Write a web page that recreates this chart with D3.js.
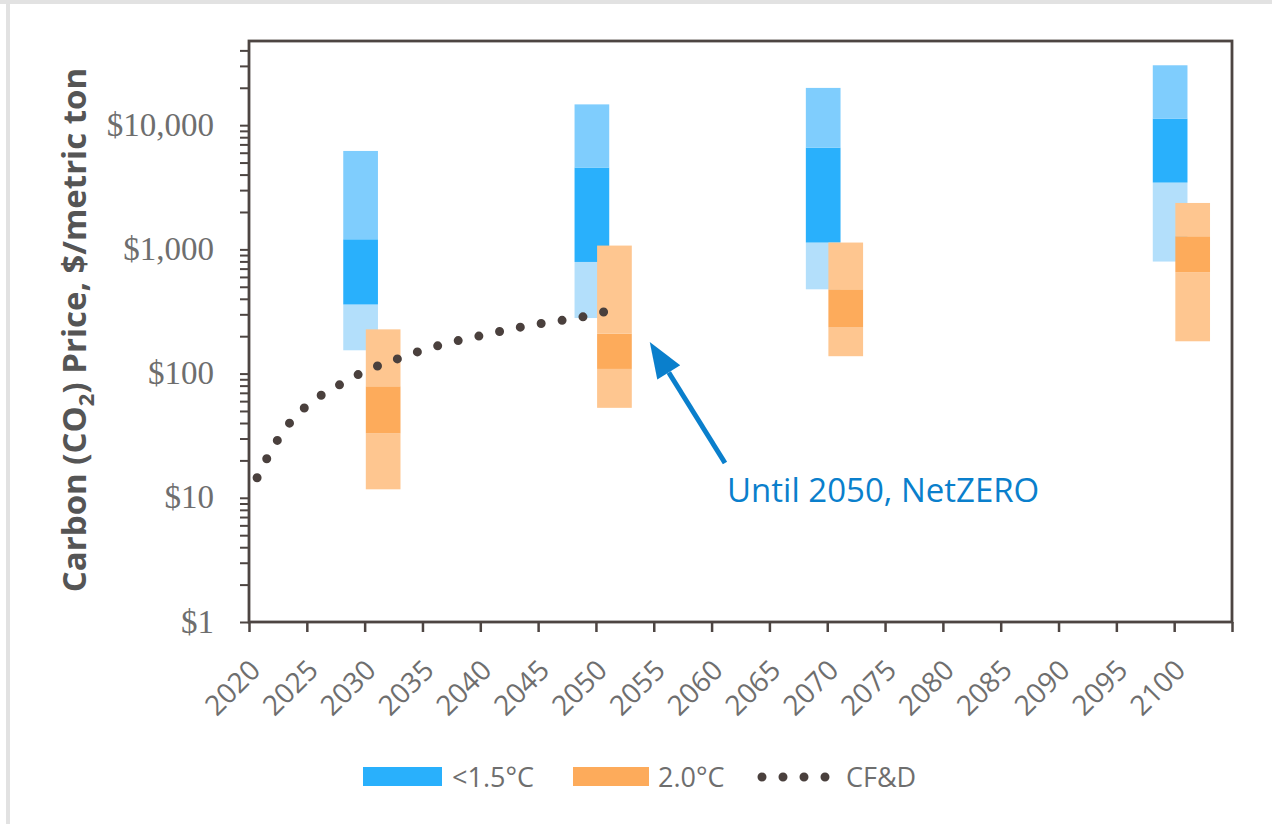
<!DOCTYPE html>
<html>
<head>
<meta charset="utf-8">
<script src="https://cdn.jsdelivr.net/npm/d3@7/dist/d3.min.js"></script>
<style>
  html, body { margin: 0; padding: 0; background: #fff; }
  svg { display: block; }
</style>
</head>
<body>
<svg id="chart" width="1272" height="824"></svg>
<script>
// ---- data ----
const yearTicks = [2020, 2025, 2030, 2035, 2040, 2045, 2050, 2055, 2060, 2065, 2070, 2075, 2080, 2085, 2090, 2095, 2100];
const priceTicks = [1, 10, 100, 1000, 10000];

// Scenario years with price ranges: [outer low, inner low, inner high, outer high]
const scenarioYears = [2030, 2050, 2070, 2100];
const below15Ranges = [
  [154, 360, 1206, 6200],
  [280, 792, 4560, 14700],
  [477, 1135, 6600, 19950],
  [798, 3450, 11300, 30350]
];
const deg20Ranges = [
  [11.7, 33, 79, 227],
  [53, 109, 210, 1073],
  [138, 235, 477, 1135],
  [182, 654, 1275, 2364]
];

// CF&D carbon price path
const cfdYears  = [2020, 2021, 2022, 2023, 2024, 2025, 2026, 2027, 2028, 2029, 2030, 2032, 2034, 2036, 2038, 2040, 2042, 2044, 2046, 2048, 2050];
const cfdValues = [14.5, 22, 31.5, 42, 52, 62, 71, 80, 90, 101, 111, 130, 151, 171, 190, 208, 229, 248, 265, 284, 314];

const seriesNames = ["<1.5°C", "2.0°C", "CF&D"];

// ---- layout ----
const svg = d3.select("#chart");
const plot = { left: 249, right: 1232, top: 41, bottom: 622 };

const x = d3.scaleLinear().domain([2020, 2105]).range([plot.left, plot.right]);
const y = d3.scaleLog().domain([1, 47600]).range([plot.bottom, plot.top]);

const colors = {
  blueOuterHigh: "#7fcdfd",
  blueInner: "#29b0fc",
  blueOuterLow: "#b3dffb",
  orangeOuter: "#fec690",
  orangeInner: "#fdab5b",
  dot: "#4a403d",
  axis: "#4d4542",
  tickText: "#6e6e6e",
  note: "#0a7fcc"
};

// page frame
svg.append("rect").attr("x", 0).attr("y", 0).attr("width", 1272).attr("height", 4).attr("fill", "#e2e2e2");
svg.append("rect").attr("x", 6).attr("y", 0).attr("width", 4).attr("height", 824).attr("fill", "#e2e2e2");

// ---- range bars ----
const barG = svg.append("g");
function drawRange(ranges, x0Off, x1Off, fills) {
  scenarioYears.forEach((yr, i) => {
    const r = ranges[i];
    const segs = [[r[0], r[1], fills[0]], [r[1], r[2], fills[1]], [r[2], r[3], fills[2]]];
    segs.forEach(s => {
      barG.append("rect")
        .attr("x", x(yr + x0Off))
        .attr("width", x(yr + x1Off) - x(yr + x0Off))
        .attr("y", y(s[1]))
        .attr("height", y(s[0]) - y(s[1]))
        .attr("fill", s[2]);
    });
  });
}
drawRange(below15Ranges, -1.85, 1.15, [colors.blueOuterLow, colors.blueInner, colors.blueOuterHigh]);
drawRange(deg20Ranges, 0.1, 3.1, [colors.orangeOuter, colors.orangeInner, colors.orangeOuter]);

// ---- CF&D dotted curve ----
const cfdLine = d3.line()
  .x(d => x(d[0] + 0.7))
  .y(d => y(d[1]))
  .curve(d3.curveMonotoneX);
const cfdPath = svg.append("path")
  .datum(cfdYears.map((yr, i) => [yr, cfdValues[i]]))
  .attr("d", cfdLine)
  .attr("fill", "none")
  .attr("stroke", colors.dot)
  .attr("stroke-width", 9)
  .attr("stroke-linecap", "round");
// spread the dots evenly so one sits on each end of the path
const len = cfdPath.node().getTotalLength();
const nGaps = Math.round(len / 21.4);
const gap = (len - 0.5) / nGaps;
cfdPath.attr("stroke-dasharray", `0 ${gap}`);

// ---- axes ----
const axisG = svg.append("g");

// y axis with log minor ticks
const yAxis = d3.axisLeft(y)
  .tickValues(y.ticks())
  .tickSize(9)
  .tickFormat(() => "");
const yg = axisG.append("g").attr("transform", `translate(${plot.left},0)`).call(yAxis);
yg.select(".domain").remove();
yg.selectAll(".tick line").attr("stroke", colors.axis).attr("stroke-width", 2);

// y labels at decades
axisG.append("g").selectAll("text")
  .data(priceTicks)
  .join("text")
  .attr("x", plot.left - 35)
  .attr("y", d => y(d))
  .attr("dy", "0.32em")
  .attr("text-anchor", "end")
  .attr("font-family", "'Liberation Serif', serif")
  .attr("font-size", 33)
  .attr("fill", colors.tickText)
  .text(d => d3.format("$,")(d));

// x axis
const xAxis = d3.axisBottom(x)
  .tickValues(yearTicks.concat([2105]))
  .tickSize(10)
  .tickFormat(() => "");
const xg = axisG.append("g").attr("transform", `translate(0,${plot.bottom})`).call(xAxis);
xg.select(".domain").remove();
xg.selectAll(".tick line").attr("stroke", colors.axis).attr("stroke-width", 2.5);

axisG.append("g").selectAll("text")
  .data(yearTicks)
  .join("text")
  .attr("transform", d => `translate(${x(d) + 13},${plot.bottom + 50}) rotate(-45)`)
  .attr("text-anchor", "end")
  .attr("font-family", "'Open Sans', sans-serif")
  .attr("font-size", 28)
  .attr("fill", colors.tickText)
  .text(d => d);

// plot frame
axisG.append("rect")
  .attr("x", plot.left).attr("y", plot.top)
  .attr("width", plot.right - plot.left)
  .attr("height", plot.bottom - plot.top)
  .attr("fill", "none")
  .attr("stroke", colors.axis)
  .attr("stroke-width", 2.8);

// y axis title
const title = svg.append("text")
  .attr("transform", `translate(86,330) rotate(-90)`)
  .attr("text-anchor", "middle")
  .attr("font-family", "'Open Sans', sans-serif")
  .attr("font-weight", "bold")
  .attr("font-size", 33)
  .attr("fill", "#555");
title.append("tspan").text("Carbon (CO");
title.append("tspan").attr("font-size", 22).attr("dy", 8).text("2");
title.append("tspan").attr("dy", -8).text(") Price, $/metric ton");

// ---- annotation ----
const note = svg.append("g");
const tip = [x(2055) - 4, y(180)];
const tail = [725, 463];
const ang = Math.atan2(tail[1] - tip[1], tail[0] - tip[0]);
const headLen = 36, headHalf = 13.5;
const baseMid = [tip[0] + headLen * Math.cos(ang), tip[1] + headLen * Math.sin(ang)];
note.append("line")
  .attr("x1", tail[0]).attr("y1", tail[1])
  .attr("x2", baseMid[0]).attr("y2", baseMid[1])
  .attr("stroke", colors.note).attr("stroke-width", 5);
note.append("polygon")
  .attr("points", [
    tip,
    [baseMid[0] + headHalf * Math.sin(ang), baseMid[1] - headHalf * Math.cos(ang)],
    [baseMid[0] - headHalf * Math.sin(ang), baseMid[1] + headHalf * Math.cos(ang)]
  ].map(p => p.join(",")).join(" "))
  .attr("fill", colors.note);
note.append("text")
  .attr("x", 727).attr("y", 502)
  .attr("font-family", "'Open Sans', sans-serif")
  .attr("font-size", 33)
  .attr("fill", colors.note)
  .text("Until 2050, NetZERO");

// ---- legend ----
const legend = svg.append("g").attr("font-family", "'Open Sans', sans-serif").attr("font-size", 27).attr("fill", colors.tickText);
legend.append("rect").attr("x", 363).attr("y", 767).attr("width", 79).attr("height", 19).attr("fill", colors.blueInner);
legend.append("text").attr("x", 452).attr("y", 787).text(seriesNames[0]);
legend.append("rect").attr("x", 573).attr("y", 767).attr("width", 76).attr("height", 19).attr("fill", colors.orangeInner);
legend.append("text").attr("x", 658).attr("y", 787).text(seriesNames[1]);
legend.append("line")
  .attr("x1", 762).attr("x2", 826).attr("y1", 777).attr("y2", 777)
  .attr("stroke", colors.dot).attr("stroke-width", 9)
  .attr("stroke-linecap", "round").attr("stroke-dasharray", "0 21");
legend.append("text").attr("x", 846).attr("y", 787).text(seriesNames[2]);
</script>
</body>
</html>
